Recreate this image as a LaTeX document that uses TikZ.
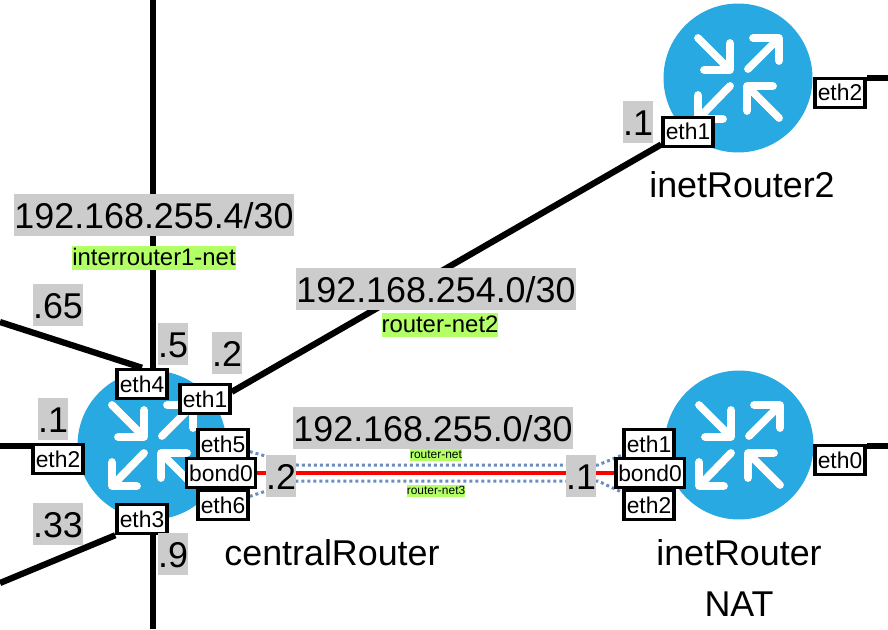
\documentclass[tikz,border=0pt]{standalone}
\usepackage{fontspec}
\usetikzlibrary{backgrounds}
\setmainfont{Liberation Sans}
\definecolor{routerblue}{HTML}{29A9E1}
\definecolor{addrgray}{HTML}{CCCCCC}
\definecolor{netgreen}{HTML}{B3FF66}
\definecolor{bondblue}{HTML}{6C8EBF}
\tikzset{
    router/.style={circle, fill=routerblue, inner sep=0pt, minimum size=2.98cm},
    port/.style={draw=black, fill=white, line width=0.07cm, inner xsep=0.05cm, inner ysep=0pt,
        minimum width=1cm, minimum height=0.58cm, text height=9.6pt, text depth=0.5pt,
        font=\fontsize{13}{15}\selectfont},
    addr/.style={fill=addrgray, inner sep=0pt, minimum height=0.84cm, text height=15.5pt, text depth=0.5pt,
        font=\fontsize{20.4}{24}\selectfont},
    netname/.style={fill=netgreen, inner sep=0pt, minimum height=0.48cm, text height=9.5pt, text depth=0.5pt,
        font=\fontsize{13.6}{16}\selectfont},
    tinynet/.style={fill=netgreen, inner sep=0pt, minimum height=0.24cm, text height=5pt, text depth=0.5pt,
        font=\fontsize{6.8}{8}\selectfont},
    hostname/.style={inner sep=0pt, font=\fontsize{20.4}{24}\selectfont},
    wire/.style={line width=0.125cm, black},
    bondwire/.style={line width=0.06cm, bondblue, dash pattern=on 0.06cm off 0.06cm},
    arrowicon/.pic={
        \draw[white, line width=0.155cm, line cap=round, line join=round]
            (-40,-40) -- (-8,-8) (-8,-35) -- (-8,-8) -- (-34,-8)
            (10,-9) -- (41,-40) (15,-40) -- (41,-40) -- (41,-17)
            (-8,8) -- (-40,41) (-40,17) -- (-40,41) -- (-15,41)
            (41,40) -- (9,8) (9,33) -- (9,8) -- (35,8);
    }
}
\begin{document}
\begin{tikzpicture}[x=0.02cm, y=-0.02cm]
    \useasboundingbox (0,0) rectangle (888,629);

    % Free ends
    \coordinate (vlanTop) at (153,0);
    \coordinate (vlanBottom) at (153,629);
    \coordinate (leftUpper) at (0,322);
    \coordinate (leftMiddle) at (0,446);
    \coordinate (leftLower) at (0,583);
    \coordinate (rightUpper) at (888,78);
    \coordinate (rightLower) at (888,446);
    \coordinate (bondLeftUp) at (297,465);
    \coordinate (bondLeftDown) at (297,481);
    \coordinate (bondRightUp) at (598,465);
    \coordinate (bondRightDown) at (598,481);

    % Routers
    \node[router] (centralRouter) at (152,445) {};
    \node[router] (inetRouter) at (739,445) {};
    \node[router] (inetRouterTwo) at (738,78) {};
    \pic at (centralRouter) {arrowicon};
    \pic at (inetRouter) {arrowicon};
    \pic at (inetRouterTwo) {arrowicon};

    % Ports
    \node[port] (centralEthFour) at (142,384) {eth4};
    \node[port] (centralEthOne) at (205,399) {eth1};
    \node[port] (centralEthTwo) at (58,459) {eth2};
    \node[port] (centralEthFive) at (223,444) {eth5};
    \node[port] (centralEthSix) at (223,505) {eth6};
    \node[port] (centralBond) at (221,473) {bond0};
    \node[port] (centralEthThree) at (142,519) {eth3};
    \node[port] (inetEthOne) at (649,444) {eth1};
    \node[port] (inetEthTwo) at (649,505) {eth2};
    \node[port] (inetBond) at (650,473) {bond0};
    \node[port] (inetEthZero) at (840,460) {eth0};
    \node[port] (twoEthOne) at (688,132) {eth1};
    \node[port] (twoEthTwo) at (840,93) {eth2};

    % Links
    \begin{scope}[on background layer]
        \draw[wire] (vlanTop) -- (vlanTop |- centralEthFour.north);
        \draw[wire] (vlanBottom) -- (vlanBottom |- centralEthThree.south);
        \draw[wire] (leftUpper) -- (centralEthFour.north);
        \draw[wire] (leftMiddle) -- (leftMiddle -| centralEthTwo.north west);
        \draw[wire] (leftLower) -- (centralEthThree.south west);
        \draw[wire] (centralEthOne.15) -- (twoEthOne.205);
        \draw[wire] (rightUpper -| twoEthTwo.north east) -- (rightUpper);
        \draw[wire] (rightLower -| inetEthZero.north east) -- (rightLower);
        \draw[line width=0.065cm, red] (centralBond) -- (inetBond);
        \draw[bondwire] (centralEthFive) -- (bondLeftUp) -- (bondRightUp) -- (inetEthOne);
        \draw[bondwire] (centralEthSix) -- (bondLeftDown) -- (bondRightDown) -- (inetEthTwo);
    \end{scope}

    % Addresses
    \node[addr] (addrFour) at (154,215) {192.168.255.4/30};
    \node[addr] (addrTwo) at (436,289) {192.168.254.0/30};
    \node[addr] (addrZero) at (433,428) {192.168.255.0/30};
    \node[addr] (hostSixFive) at (58,305) {.65};
    \node[addr] (hostFive) at (173,344) {.5};
    \node[addr] (hostTwoUp) at (227,353) {.2};
    \node[addr] (hostOneLeft) at (53,419) {.1};
    \node[addr] (hostThreeThree) at (58,524) {.33};
    \node[addr] (hostNine) at (173,554) {.9};
    \node[addr] (hostTwoMid) at (281,476) {.2};
    \node[addr] (hostOneMid) at (581,476) {.1};
    \node[addr] (hostOneTop) at (638,122) {.1};

    % Networks
    \node[netname] (netInter) at (154,258) {interrouter1-net};
    \node[netname] (netTwo) at (440,325) {router-net2};
    \node[tinynet] (netOne) at (436,455) {router-net};
    \node[tinynet] (netThree) at (436,491) {router-net3};

    % Names
    \node[hostname] (centralName) at (332,553) {centralRouter};
    \node[hostname] (inetName) at (739,553) {inetRouter};
    \node[hostname] (natName) at (739,604) {NAT};
    \node[hostname] (twoName) at (742,185) {inetRouter2};
\end{tikzpicture}
\end{document}
